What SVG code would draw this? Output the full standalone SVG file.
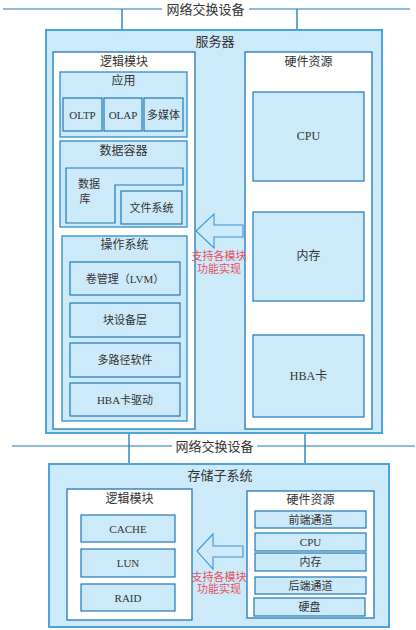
<svg xmlns="http://www.w3.org/2000/svg" width="416" height="630" viewBox="0 0 416 630">
<style>
text{font-family:"Liberation Serif","Noto Sans CJK SC",serif;fill:#333;text-anchor:middle;dominant-baseline:central}
.t{font-size:12px}
.s{font-size:11px}
.big{font-size:13px}
.red{fill:#e8505b;font-size:11px}
.outer{fill:#cdeafb;stroke:#4ba3d9;stroke-width:2}
.white{fill:#fff;stroke:#1f78b8;stroke-width:1.3}
.box{fill:#cdeafb;stroke:#1f78b8;stroke-width:1.2}
.grp{fill:#cdeafb;stroke:#3b94cc;stroke-width:1.4}
.line{stroke:#1f78b8;stroke-width:1.2;fill:none}
.vline{stroke:#2a7fb8;stroke-width:1.4;fill:none}
.arrow{fill:#cdeafb;stroke:#3d95cf;stroke-width:1.1}
</style>
<g id="connectors">
<line class="line" x1="3" y1="9" x2="162" y2="9"/>
<line class="line" x1="249" y1="9" x2="410" y2="9"/>
<line class="vline" x1="122" y1="9" x2="122" y2="30"/>
<line class="vline" x1="297" y1="9" x2="297" y2="30"/>
<line class="line" x1="12" y1="446" x2="172" y2="446"/>
<line class="line" x1="257" y1="446" x2="415" y2="446"/>
<line class="vline" x1="129" y1="433" x2="129" y2="464"/>
<line class="vline" x1="305" y1="433" x2="305" y2="464"/>
</g>
<g id="net-top"><text class="big" x="205.5" y="9">网络交换设备</text></g>
<g id="net-bottom"><text class="big" x="214.5" y="446">网络交换设备</text></g>

<g id="server">
<rect class="outer" x="46" y="30" width="336" height="403"/>
<text class="big" x="215" y="41">服务器</text>
</g>
<g id="server-logic">
<rect class="white" x="53" y="52" width="142" height="377"/>
<text class="t" x="124" y="62">逻辑模块</text>
</g>
<g id="app">
<rect class="grp" x="60" y="72" width="127" height="65"/>
<text class="t" x="123.5" y="81">应用</text>
</g>
<g id="oltp"><rect class="box" x="63" y="98" width="39" height="33"/><text class="s" x="82.5" y="114.5">OLTP</text></g>
<g id="olap"><rect class="box" x="104" y="98" width="38" height="33"/><text class="s" x="123" y="114.5">OLAP</text></g>
<g id="media"><rect class="box" x="144" y="98" width="39" height="33"/><text class="s" x="163.5" y="114.5">多媒体</text></g>
<g id="container">
<rect class="grp" x="60" y="141" width="127" height="86"/>
<text class="t" x="123.5" y="151">数据容器</text>
</g>
<g id="db">
<path class="box" d="M66,168 H183 V185 H115 V223 H66 Z"/>
<text class="s" x="89" y="184">数据</text>
<text class="s" x="85" y="199">库</text>
</g>
<g id="fs"><rect class="box" x="121" y="191" width="61" height="33"/><text class="s" x="151.5" y="207.5">文件系统</text></g>
<g id="os">
<rect class="grp" x="62" y="236" width="125" height="185"/>
<text class="t" x="124.5" y="245">操作系统</text>
</g>
<g id="lvm"><rect class="box" x="70" y="262" width="110" height="33"/><text class="s" x="125" y="278.5">卷管理（LVM）</text></g>
<g id="block"><rect class="box" x="70" y="303" width="110" height="34"/><text class="s" x="125" y="320">块设备层</text></g>
<g id="multipath"><rect class="box" x="70" y="343" width="110" height="34"/><text class="s" x="125" y="360">多路径软件</text></g>
<g id="hbadrv"><rect class="box" x="70" y="383" width="110" height="33"/><text class="s" x="125" y="399.5">HBA卡驱动</text></g>

<g id="server-hw">
<rect class="white" x="245" y="52" width="127" height="377"/>
<text class="t" x="308.5" y="62">硬件资源</text>
</g>
<g id="cpu"><rect class="box" x="253" y="92" width="111" height="89"/><text class="t" x="308.5" y="136">CPU</text></g>
<g id="mem"><rect class="box" x="253" y="212" width="111" height="89"/><text class="t" x="308.5" y="256">内存</text></g>
<g id="hba"><rect class="box" x="253" y="335" width="111" height="82"/><text class="t" x="308.5" y="376">HBA卡</text></g>

<g id="server-arrow">
<path class="arrow" d="M243,225 H214 V214 L196,231 L214,248 V237 H243 Z"/>
<text class="red" x="219" y="256">支持各模块</text>
<text class="red" x="219" y="269">功能实现</text>
</g>

<g id="storage">
<rect class="outer" x="49" y="464" width="340" height="163"/>
<text class="big" x="220" y="475">存储子系统</text>
</g>
<g id="storage-logic">
<rect class="white" x="67" y="489" width="125" height="131"/>
<text class="t" x="129.5" y="499">逻辑模块</text>
</g>
<g id="cache"><rect class="box" x="81" y="515" width="94" height="27"/><text class="s" x="128" y="528.5">CACHE</text></g>
<g id="lun"><rect class="box" x="81" y="549" width="94" height="28"/><text class="s" x="128" y="563">LUN</text></g>
<g id="raid"><rect class="box" x="81" y="584" width="94" height="27"/><text class="s" x="128" y="597.5">RAID</text></g>

<g id="storage-arrow">
<path class="arrow" d="M243,546 H213 V534 L197,551 L213,569 V557 H243 Z"/>
<text class="red" x="219" y="577">支持各模块</text>
<text class="red" x="219" y="589">功能实现</text>
</g>

<g id="storage-hw">
<rect class="white" x="247" y="491" width="127" height="127"/>
<text class="t" x="310.5" y="500">硬件资源</text>
</g>
<g id="front"><rect class="box" x="255" y="511" width="111" height="17"/><text class="s" x="310.5" y="519.5">前端通道</text></g>
<g id="scpu"><rect class="box" x="255" y="533" width="111" height="18"/><text class="s" x="310.5" y="542">CPU</text></g>
<g id="smem"><rect class="box" x="255" y="553" width="111" height="18"/><text class="s" x="310.5" y="562">内存</text></g>
<g id="back"><rect class="box" x="255" y="577" width="111" height="17"/><text class="s" x="310.5" y="585.5">后端通道</text></g>
<g id="disk"><rect class="box" x="254" y="598" width="111" height="18"/><text class="s" x="309.5" y="607">硬盘</text></g>
</svg>
